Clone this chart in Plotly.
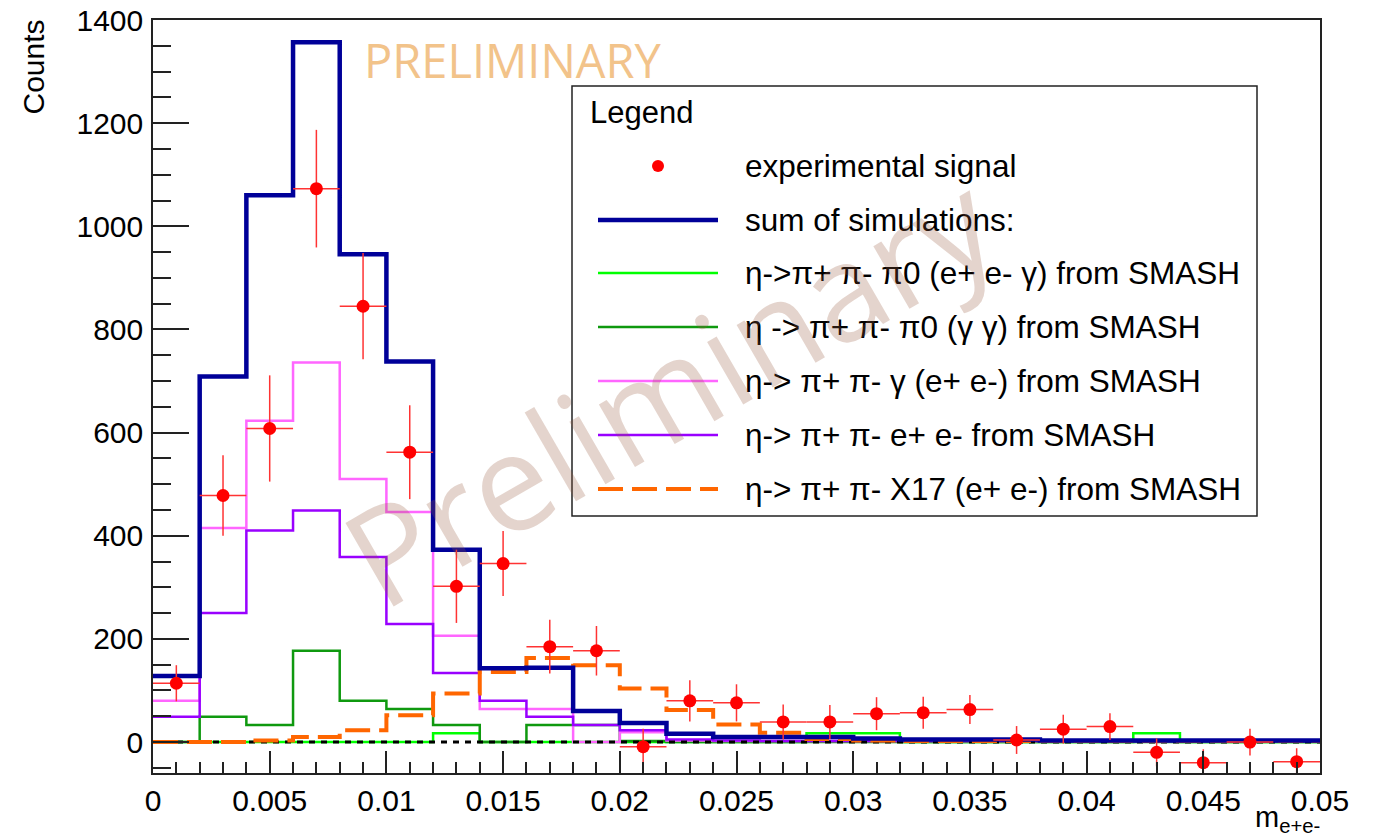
import plotly.graph_objects as go

# ---------------- data ----------------
bin_width = 0.002
n_bins = 25
bin_edges = [round(i * bin_width, 4) for i in range(n_bins + 1)]
bin_centers = [round((i + 0.5) * bin_width, 4) for i in range(n_bins)]

signal = [114, 478, 608, 1073, 845, 562, 302, 346, 185, 177, -9, 80, 76, 39, 39,
          55, 57, 63, 4, 25, 30, -20, -40, 0, -38]
signal_err = [35, 78, 103, 114, 103, 91, 71, 63, 52, 48, 35, 40, 36, 34, 33,
              32, 31, 28, 27, 28, 26, 27, 26, 26, 26]

sum_sim = [128, 709, 1060, 1357, 946, 738, 373, 143, 144, 60, 37, 16, 10, 10, 10,
           7, 5, 5, 5, 3, 3, 3, 3, 3, 3]
eeg_pi0 = [0, 0, 0, 0, 0, 0, 17, 0, 0, 0, 0, 0, 0, 0, 17,
           17, 0, 0, 0, 0, 0, 17, 0, 0, 0]
gg_pi0 = [0, 49, 33, 177, 80, 64, 33, 0, 33, 33, 2, 0, 0, 0, 0,
          0, 0, 0, 0, 0, 0, 0, 0, 0, 0]
gamma_ee = [80, 415, 623, 736, 510, 446, 206, 64, 64, 0, 19, 3, 2, 2, 2,
            2, 2, 2, 2, 2, 2, 2, 2, 2, 2]
direct_ee = [49, 250, 410, 449, 359, 229, 134, 80, 49, 33, 23, 5, 3, 2, 2,
             2, 2, 2, 2, 2, 2, 2, 2, 2, 2]
x17_ee = [0, 0, 3, 10, 23, 52, 94, 136, 163, 149, 104, 62, 34, 18, 6,
          3, 2, 2, 2, 2, 2, 2, 2, 2, 2]
other_sim = [0] * n_bins

x_tick_vals = [0, 0.005, 0.01, 0.015, 0.02, 0.025, 0.03, 0.035, 0.04, 0.045, 0.05]
x_tick_labels = ["0", "0.005", "0.01", "0.015", "0.02", "0.025", "0.03", "0.035",
                 "0.04", "0.045", "0.05"]
y_tick_vals = [0, 200, 400, 600, 800, 1000, 1200, 1400]
y_tick_labels = ["0", "200", "400", "600", "800", "1000", "1200", "1400"]

legend_labels = [
    "experimental signal",
    "sum of simulations:",
    "η->π+ π- π0 (e+ e- γ) from SMASH",
    "η -> π+ π- π0 (γ γ) from SMASH",
    "η-> π+ π- γ (e+ e-) from SMASH",
    "η-> π+ π- e+ e- from SMASH",
    "η-> π+ π- X17 (e+ e-) from SMASH",
]

# ---------------- styles ----------------
FONT = "Liberation Sans, Arial, Helvetica, sans-serif"
C_BLUE = "#000099"
C_LGREEN = "#00ff00"
C_DGREEN = "#0f990f"
C_PINK = "#ff66ff"
C_PURPLE = "#9900ff"
C_ORANGE = "#ff6600"
C_RED = "#ff0000"

W, H = 1373, 837
X0, X1, Y0, Y1 = 153, 1320, 20, 773  # plot area in pixels


def px(xp):
    return (xp - X0) / (X1 - X0)


def py(yp):
    return (Y1 - yp) / (Y1 - Y0)


def step(vals):
    return list(vals) + [vals[-1]]


fig = go.Figure()

hists = [
    (eeg_pi0, C_LGREEN, 2.5, "solid"),
    (gg_pi0, C_DGREEN, 2.5, "solid"),
    (gamma_ee, C_PINK, 2.5, "solid"),
    (direct_ee, C_PURPLE, 2.5, "solid"),
    (other_sim, "black", 3, "6px,6px"),
    (x17_ee, C_ORANGE, 4, "25px,9px"),
    (sum_sim, C_BLUE, 4.5, "solid"),
]
for vals, col, lw, dash in hists:
    fig.add_trace(go.Scatter(
        x=bin_edges, y=step(vals), mode="lines", line_shape="hv",
        line=dict(color=col, width=lw, dash=dash), showlegend=False,
        hoverinfo="skip"))

fig.add_trace(go.Scatter(
    x=bin_centers, y=signal, mode="markers",
    marker=dict(color=C_RED, size=13),
    error_y=dict(type="data", array=signal_err, color="#ff3333", thickness=1.5, width=0),
    error_x=dict(type="constant", value=bin_width / 2, color="#ff3333", thickness=1.5, width=0),
    showlegend=False))

shapes = []
annotations = []

# legend box
shapes.append(dict(type="rect", xref="paper", yref="paper",
                   x0=px(572), x1=px(1257), y0=py(516), y1=py(86),
                   fillcolor="white", line=dict(color="#222222", width=1.5),
                   layer="above"))
annotations.append(dict(text="Legend", xref="paper", yref="paper",
                        x=px(588), y=py(112), xanchor="left", yanchor="middle",
                        showarrow=False, font=dict(family=FONT, size=31, color="black")))
row_y = [166, 220, 273, 327, 381, 435, 489]
samples = [None, (C_BLUE, 4.5, "solid"), (C_LGREEN, 2.5, "solid"), (C_DGREEN, 2.5, "solid"),
           (C_PINK, 2.5, "solid"), (C_PURPLE, 2.5, "solid"), (C_ORANGE, 4, "25px,9px")]
for lab, ry, smp in zip(legend_labels, row_y, samples):
    if smp is None:
        shapes.append(dict(type="circle", xref="paper", yref="paper",
                           x0=px(652), x1=px(664), y0=py(ry + 6), y1=py(ry - 6),
                           fillcolor=C_RED, line=dict(color=C_RED, width=0), layer="above"))
    else:
        shapes.append(dict(type="line", xref="paper", yref="paper",
                           x0=px(598), x1=px(718), y0=py(ry), y1=py(ry),
                           line=dict(color=smp[0], width=smp[1], dash=smp[2]), layer="above"))
    annotations.append(dict(text=lab, xref="paper", yref="paper",
                            x=px(743), y=py(ry), xanchor="left", yanchor="middle",
                            showarrow=False, font=dict(family=FONT, size=31.5, color="black")))

# axis titles
annotations.append(dict(text="Counts", xref="paper", yref="paper",
                        x=px(33), y=py(18), xanchor="center", yanchor="top",
                        textangle=-90, showarrow=False,
                        font=dict(family=FONT, size=30, color="black")))
annotations.append(dict(text="m<sub>e+e-</sub>", xref="paper", yref="paper",
                        x=px(1322), y=py(799), xanchor="right", yanchor="top",
                        showarrow=False,
                        font=dict(family=FONT, size=29, color="black")))

# watermarks
annotations.append(dict(text="PRELIMINARY", xref="paper", yref="paper",
                        x=px(513), y=py(60), xanchor="center", yanchor="middle",
                        showarrow=False,
                        font=dict(family="Open Sans", size=47, color="#f2c38a")))
annotations.append(dict(text="Preliminary", xref="paper", yref="paper",
                        x=px(668), y=py(388), xanchor="center", yanchor="middle",
                        textangle=-30, showarrow=False,
                        font=dict(family="Open Sans", size=135, color="rgba(150,90,60,0.26)")))

axis_common = dict(showline=True, linecolor="#222222", linewidth=1.5, mirror=True,
                   showgrid=False, zeroline=False, ticks="inside", tickcolor="#222222",
                   tickwidth=1.5, automargin=False,
                   tickfont=dict(family=FONT, size=30, color="black"))

fig.update_layout(
    width=W, height=H,
    margin=dict(l=X0, r=W - X1, t=Y0, b=H - Y1, autoexpand=False),
    paper_bgcolor="white", plot_bgcolor="white",
    shapes=shapes, annotations=annotations, showlegend=False,
    xaxis=dict(range=[0, 0.05], tickmode="array", tickvals=x_tick_vals,
               ticktext=x_tick_labels, ticklen=22, ticklabelstandoff=0,
               minor=dict(tickmode="linear", tick0=0, dtick=0.001, ticks="inside",
                          ticklen=11, tickcolor="#222222", tickwidth=1.5),
               **axis_common),
    yaxis=dict(range=[-60, 1400], tickmode="array", tickvals=y_tick_vals,
               ticktext=y_tick_labels, ticklen=36, ticklabelstandoff=2,
               minor=dict(tickmode="linear", tick0=0, dtick=50, ticks="inside",
                          ticklen=18, tickcolor="#222222", tickwidth=1.5),
               **axis_common),
)

fig.write_html("out.html", config={"displayModeBar": False},
               post_script="document.body.style.margin='0';")
